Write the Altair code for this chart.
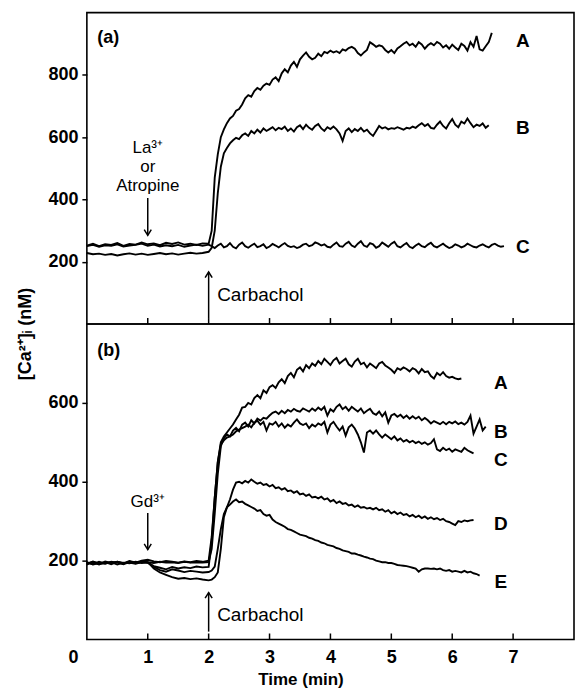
import altair as alt
import pandas as pd

FONT = "Liberation Sans"

# ---------------- data ----------------
BASE_T = [round(0.1 * i, 2) for i in range(20)]          # 0.0 .. 1.9 min
def post_t(n):
    return [round(2.0 + 0.05 * i, 2) for i in range(n)]  # from 2.0 min

# Panel (a)
TOP_A_BASE = [252, 258, 250, 256, 254, 260, 251, 257, 255, 262, 256, 259, 253, 261, 257, 262, 255, 258, 254, 259]
TOP_A_POST = [258, 300, 470, 545, 600, 625, 645, 660, 668, 685, 690, 705, 725, 735, 730, 748, 758, 752, 765, 772,
              768, 785, 792, 780, 805, 818, 808, 830, 842, 826, 850, 862, 872, 858, 850, 855, 868, 860, 874, 870,
              878, 872, 876, 870, 882, 878, 886, 890, 884, 870, 862, 872, 880, 905, 898, 890, 895, 892, 880, 872,
              880, 870, 885, 892, 900, 906, 895, 900, 890, 905, 898, 884, 895, 902, 895, 906, 900, 888, 895, 884,
              897, 888, 880, 900, 893, 878, 905, 890, 925, 882, 878, 892, 905, 935]
TOP_B_BASE = [228, 224, 226, 222, 225, 220, 224, 227, 223, 226, 222, 225, 228, 224, 227, 223, 226, 229, 226, 228]
TOP_B_POST = [232, 245, 300, 420, 505, 548, 565, 580, 590, 598, 594, 606, 612, 604, 620, 612, 624, 615, 628, 620,
              626, 632, 622, 630, 626, 634, 620, 628, 618, 632, 638, 626, 640, 630, 624, 636, 642, 628, 620, 632,
              626, 634, 625, 612, 588, 620, 628, 616, 626, 620, 630, 618, 624, 612, 604, 620, 636, 628, 632, 625,
              629, 627, 632, 628, 624, 630, 628, 634, 630, 638, 645, 636, 642, 630, 627, 640, 650, 636, 628, 645,
              658, 640, 632, 650, 644, 660, 645, 632, 640, 636, 644, 630, 638]
TOP_C_BASE = [250, 254, 248, 253, 251, 256, 249, 252, 254, 258, 251, 255, 249, 253, 250, 254, 248, 252, 255, 251]
TOP_C_POST = [255, 250, 244, 252, 258, 246, 250, 260, 248, 243, 255, 262, 250, 245, 252, 258, 247, 250, 256, 244,
              249, 257, 252, 246, 254, 260, 251, 247, 250, 244, 248, 255, 258, 250, 253, 262, 258, 252, 256, 248,
              246, 255, 262, 250, 248, 258, 264, 252, 247, 258, 266, 252, 248, 260, 256, 245, 250, 262, 255, 248,
              258, 264, 250, 246, 254, 260, 248, 244, 252, 258, 250, 247, 255, 261, 250, 246, 252, 258, 250, 244,
              248, 256, 252, 246, 250, 258, 253, 248, 246, 252, 256, 250, 246, 254, 258, 252, 248, 250]

# Panel (b)
BOT_A_BASE = [192, 196, 190, 198, 194, 197, 193, 199, 195, 200, 202, 198, 196, 199, 197, 195, 198, 196, 199, 197]
BOT_A_POST = [200, 260, 360, 450, 500, 515, 525, 535, 545, 558, 570, 588, 590, 600, 596, 612, 620, 612, 632, 625,
              640, 645, 638, 652, 660, 650, 668, 676, 665, 684, 690, 680, 696, 688, 700, 694, 706, 698, 712, 704,
              696, 708, 714, 700, 706, 712, 698, 692, 705, 712, 698, 702, 690, 700, 694, 688, 700, 704, 695, 690,
              684, 676, 688, 684, 690, 686, 680, 688, 684, 675, 686, 678, 680, 668, 662, 676, 670, 678, 668, 664,
              666, 662, 660, 662]
BOT_B_BASE = [196, 190, 194, 192, 197, 195, 191, 196, 194, 198, 196, 194, 197, 195, 196, 194, 197, 195, 196, 195]
BOT_B_POST = [196, 230, 320, 420, 490, 510, 520, 515, 530, 537, 528, 545, 550, 540, 556, 548, 560, 555, 562, 560,
              568, 575, 578, 572, 580, 574, 582, 578, 585, 580, 578, 586, 582, 578, 586, 580, 588, 582, 590, 568,
              584, 578, 590, 596, 584, 590, 580, 590, 584, 578, 586, 574, 580, 585, 574, 570, 578, 566, 576, 550,
              568, 572, 565, 570, 562, 568, 560, 566, 560, 565, 556, 562, 556, 548, 554, 550, 546, 552, 546, 552,
              548, 553, 546, 550, 545, 552, 568, 522, 540, 558, 530, 540]
BOT_C_BASE = [190, 198, 193, 196, 191, 197, 194, 195, 192, 196, 195, 186, 182, 178, 184, 180, 183, 181, 185, 183]
BOT_C_POST = [184, 250, 360, 450, 495, 505, 512, 515, 520, 528, 532, 536, 540, 545, 538, 550, 555, 545, 552, 530,
              548, 545, 552, 540, 548, 537, 545, 540, 550, 558, 548, 544, 548, 536, 545, 540, 548, 544, 552, 525,
              545, 552, 540, 530, 540, 517, 538, 545, 535, 520, 500, 474, 525, 530, 522, 530, 520, 512, 520, 514,
              508, 515, 505, 510, 502, 506, 500, 504, 498, 502, 496, 500, 494, 498, 508, 482, 478, 486, 480, 484,
              476, 482, 479, 476, 486, 480, 476, 472]
BOT_D_BASE = [193, 197, 191, 195, 194, 196, 192, 198, 193, 197, 195, 184, 176, 172, 178, 175, 171, 174, 172, 170]
BOT_D_POST = [171, 175, 185, 230, 280, 318, 335, 355, 380, 398, 400, 396, 402, 398, 406, 400, 395, 398, 392, 394,
              388, 392, 384, 386, 380, 384, 376, 378, 372, 376, 368, 370, 364, 368, 360, 362, 358, 362, 355, 358,
              350, 354, 346, 350, 344, 346, 340, 342, 336, 340, 334, 336, 332, 334, 330, 334, 328, 330, 324, 328,
              320, 324, 318, 322, 316, 318, 312, 316, 310, 314, 308, 312, 306, 310, 305, 308, 303, 306, 300, 298,
              294, 290, 300, 298, 302, 300, 302, 303]
BOT_E_BASE = [195, 191, 197, 193, 196, 190, 195, 193, 197, 194, 196, 180, 170, 164, 158, 154, 156, 153, 155, 152]
BOT_E_POST = [150, 152, 158, 170, 230, 310, 335, 342, 350, 355, 348, 350, 344, 340, 336, 332, 326, 328, 318, 314,
              316, 304, 298, 294, 290, 286, 280, 278, 274, 270, 266, 264, 262, 258, 256, 252, 250, 246, 244, 240,
              238, 236, 232, 230, 226, 224, 222, 218, 218, 215, 213, 210, 208, 205, 204, 200, 198, 196, 196, 194,
              194, 192, 189, 188, 187, 186, 184, 182, 180, 172, 178, 180, 180, 179, 180, 178, 180, 176, 174, 176,
              172, 174, 172, 170, 174, 170, 172, 168, 166, 162]

TOP_SERIES = {"A": (TOP_A_BASE, TOP_A_POST), "B": (TOP_B_BASE, TOP_B_POST), "C": (TOP_C_BASE, TOP_C_POST)}
BOT_SERIES = {"A": (BOT_A_BASE, BOT_A_POST), "B": (BOT_B_BASE, BOT_B_POST), "C": (BOT_C_BASE, BOT_C_POST),
              "D": (BOT_D_BASE, BOT_D_POST), "E": (BOT_E_BASE, BOT_E_POST)}

X_TICKS = [1, 2, 3, 4, 5, 6, 7]
TOP_Y_TICKS = [200, 400, 600, 800]
BOT_Y_TICKS = [200, 400, 600]
X_LABELS = [0, 1, 2, 3, 4, 5, 6, 7]

# series labels
TOP_LABEL_T = [7.16, 7.16, 7.16]
TOP_LABEL_V = [910, 631, 247]
TOP_LABEL_TXT = ["A", "B", "C"]
BOT_LABEL_T = [6.8, 6.8, 6.8, 6.8, 6.8]
BOT_LABEL_V = [651, 527, 456, 294, 147]
BOT_LABEL_TXT = ["A", "B", "C", "D", "E"]

# annotations (first line position, lines)
TOP_NOTE = (1.0, 566, ["La³⁺", "or", "Atropine"])
BOT_NOTE = (1.0, 349, ["Gd³⁺"])
TOP_DOWN_ARROW = (1.0, 405, 285)     # x, from, to (tip)
BOT_DOWN_ARROW = (1.0, 321, 228)
TOP_UP_ARROW = (2.0, 19, 167)        # x, from, to (tip)
BOT_UP_ARROW = (2.0, 20, 119)
TOP_CARB = (2.14, 93)
BOT_CARB = (2.14, 63)
PANEL_TAG_T = 0.17
TOP_TAG_V = 918
BOT_TAG_V = 731

# ---------------- build tables ----------------
def lines_df(series):
    rows = []
    for name, (base, post) in series.items():
        for t, v in zip(BASE_T, base):
            rows.append({"series": name, "t": t, "v": v})
        for t, v in zip(post_t(len(post)), post):
            rows.append({"series": name, "t": t, "v": v})
    return pd.DataFrame(rows)

W = 488
H1 = 312
H2 = 316
XS = alt.Scale(domain=[0, 8], nice=False, zero=False)


def y_axis(values):
    return alt.Axis(values=values, title=None, grid=False, domain=False, tickSize=5,
                    tickColor="black", tickWidth=1.5, labelFont=FONT, labelFontSize=18,
                    labelFontWeight="bold", labelColor="black", labelPadding=4)


def panel(series, ydomain, yticks, height, labels, note, down_arrow, up_arrow, carb, tag,
          xaxis, extra=None):
    ys = alt.Scale(domain=ydomain, nice=False, zero=False)
    X = alt.X("t:Q", scale=XS, axis=xaxis)
    Y = alt.Y("v:Q", scale=ys, axis=y_axis(yticks))

    lines = alt.Chart(lines_df(series)).mark_line(color="black", strokeWidth=1.9).encode(
        x=X, y=Y, detail="series:N",
    )

    ticks = alt.Chart(pd.DataFrame({"t": X_TICKS})).mark_rule(color="black", strokeWidth=1.5).encode(
        x=X, y=alt.value(height), y2=alt.value(height - 6)
    )

    lab_t, lab_v, lab_txt = labels
    lab = alt.Chart(pd.DataFrame({"t": lab_t, "v": lab_v, "text": lab_txt})).mark_text(
        font=FONT, fontSize=19, fontWeight="bold", color="black", align="center", baseline="middle"
    ).encode(x=X, y=Y, text="text:N")

    n_t, n_v, n_lines = note
    note_m = alt.Chart(pd.DataFrame({"t": [n_t], "v": [n_v]})).mark_text(
        text=n_lines, font=FONT, fontSize=17, lineHeight=19, color="black", align="center",
        baseline="middle"
    ).encode(x=X, y=Y)

    layers = [lines, ticks, lab, note_m]

    ax, a_from, a_to = down_arrow
    bx, b_from, b_to = up_arrow
    shafts = alt.Chart(pd.DataFrame({"t": [ax, bx], "v": [a_from, b_from], "v2": [a_to, b_to]})).mark_rule(
        color="black", strokeWidth=1.5
    ).encode(x=X, y=Y, y2="v2:Q")
    head_down = alt.Chart(pd.DataFrame({"t": [ax], "v": [a_to]})).mark_point(
        shape="M-1,-1.6L0,0L1,-1.6", filled=False, stroke="black", strokeWidth=1.5, size=50, opacity=1
    ).encode(x=X, y=Y)
    head_up = alt.Chart(pd.DataFrame({"t": [bx], "v": [b_to]})).mark_point(
        shape="M-1,1.6L0,0L1,1.6", filled=False, stroke="black", strokeWidth=1.5, size=50, opacity=1
    ).encode(x=X, y=Y)
    layers += [shafts, head_down, head_up]

    c_t, c_v = carb
    layers.append(alt.Chart(pd.DataFrame({"t": [c_t], "v": [c_v], "text": ["Carbachol"]})).mark_text(
        font=FONT, fontSize=19, color="black", align="left", baseline="middle"
    ).encode(x=X, y=Y, text="text:N"))

    tag_t, tag_v, tag_txt = tag
    layers.append(alt.Chart(pd.DataFrame({"t": [tag_t], "v": [tag_v], "text": [tag_txt]})).mark_text(
        font=FONT, fontSize=18, fontWeight="bold", color="black", align="left", baseline="middle"
    ).encode(x=X, y=Y, text="text:N"))

    if extra is not None:
        layers.append(extra)

    return alt.layer(*layers).properties(width=W, height=height)


ytitle = alt.Chart(pd.DataFrame({"text": ["[Ca²⁺]ᵢ (nM)"]})).mark_text(
    font=FONT, fontSize=18, fontWeight="bold", color="black", angle=270, align="center", baseline="middle"
).encode(x=alt.value(-61), y=alt.value(322), text="text:N")

bottom_axis = alt.Axis(
    values=X_LABELS, title="Time (min)", grid=False, domain=False, ticks=False, format="d",
    labelFont=FONT, labelFontSize=18, labelFontWeight="bold", labelColor="black", labelPadding=9,
    labelFlush=False,
    labelOffset={"condition": {"test": "datum.value == 0", "value": -14}, "value": 0},
    titleFont=FONT, titleFontSize=17, titleFontWeight="bold", titleColor="black", titlePadding=5,
    titleX=214,
)

top = panel(TOP_SERIES, [0, 1000], TOP_Y_TICKS, H1, (TOP_LABEL_T, TOP_LABEL_V, TOP_LABEL_TXT),
            TOP_NOTE, TOP_DOWN_ARROW, TOP_UP_ARROW, TOP_CARB, (PANEL_TAG_T, TOP_TAG_V, "(a)"), None,
            extra=ytitle)

bottom = panel(BOT_SERIES, [0, 800], BOT_Y_TICKS, H2, (BOT_LABEL_T, BOT_LABEL_V, BOT_LABEL_TXT),
               BOT_NOTE, BOT_DOWN_ARROW, BOT_UP_ARROW, BOT_CARB, (PANEL_TAG_T, BOT_TAG_V, "(b)"),
               bottom_axis)

chart = alt.vconcat(top, bottom, spacing=0, bounds="flush").resolve_scale(y="independent").properties(
    padding={"left": 8, "top": 3, "right": 1, "bottom": 0},
    background="white",
).configure_view(stroke="black", strokeWidth=1.6)

chart.save("out.html", embed_options={"renderer": "svg", "actions": False})
